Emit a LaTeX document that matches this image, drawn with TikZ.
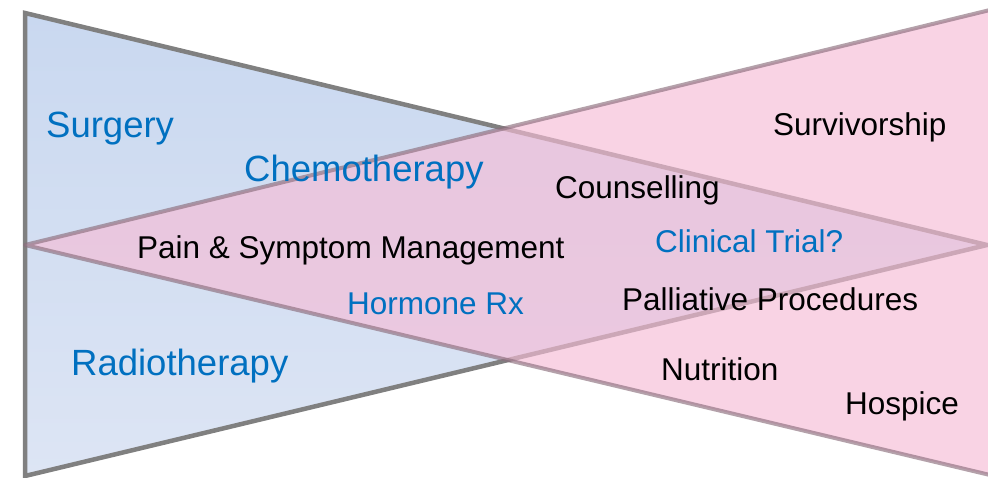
\documentclass[tikz,border=0pt]{standalone}
\usepackage{fontspec}
\setmainfont{Liberation Sans}
\definecolor{edgegray}{RGB}{128,128,128}
\definecolor{bluetop}{RGB}{201,216,240}
\definecolor{bluebot}{RGB}{221,229,244}
\definecolor{pinkfill}{RGB}{246,188,214}
\definecolor{pinkedge}{RGB}{140,110,125}
\definecolor{labelblue}{RGB}{0,112,192}
\begin{document}
\begin{tikzpicture}[x=1pt,y=-1pt,
  bluelabel/.style={anchor=base west,inner sep=0pt,text=labelblue},
  blacklabel/.style={anchor=base west,inner sep=0pt,text=black},
  bigfont/.style={font=\fontsize{36.5}{40}\selectfont},
  smallfont/.style={font=\fontsize{31.5}{36}\selectfont}]
\useasboundingbox (0,0) rectangle (988,478);

% treatment wedge, narrowing to the right
\coordinate (bt) at (25,13);
\coordinate (bb) at (25,476);
\coordinate (ba) at (987,245);
\shade[top color=bluetop,bottom color=bluebot] (bt) -- (ba) -- (bb) -- cycle;
\draw[edgegray,line width=4.5pt,line join=miter] (bt) -- (ba) -- (bb) -- cycle;

% supportive care wedge, widening to the right
\coordinate (pa) at (25,245);
\coordinate (pt) at (990,10);
\coordinate (pb) at (990,475);
\fill[pinkfill,fill opacity=0.65] (pa) -- (pt) -- (pb) -- cycle;
\draw[pinkedge,draw opacity=0.65,line width=4pt,line join=round] (pb) -- (pa) -- (pt);

% labels
\node[bluelabel,bigfont] (surgery) at (46,138) {Surgery};
\node[bluelabel,bigfont] (chemo) at (244,182) {Chemotherapy};
\node[bluelabel,bigfont] (radio) at (71,375) {Radiotherapy};
\node[bluelabel,smallfont] (trial) at (655,253) {Clinical Trial?};
\node[bluelabel,smallfont] (hormone) at (347,315) {Hormone Rx};
\node[blacklabel,smallfont] (surviv) at (773,136) {Survivorship};
\node[blacklabel,smallfont] (counsel) at (555,199) {Counselling};
\node[blacklabel,smallfont] (pain) at (137,259) {Pain \& Symptom Management};
\node[blacklabel,smallfont] (palliative) at (622,311) {Palliative Procedures};
\node[blacklabel,smallfont] (nutrition) at (661,381) {Nutrition};
\node[blacklabel,smallfont] (hospice) at (845,414) {Hospice};
\end{tikzpicture}
\end{document}
